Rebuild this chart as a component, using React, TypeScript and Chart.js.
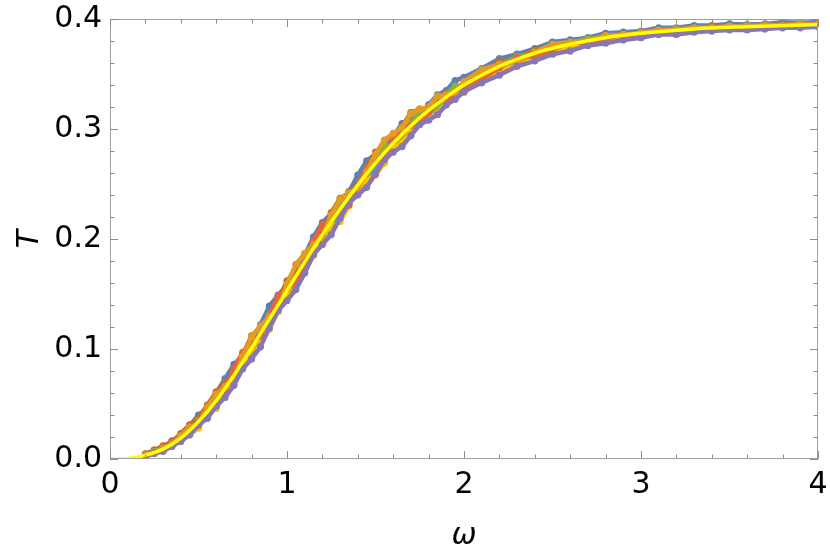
import React, { useEffect, useRef } from "react";
import { Chart, registerables } from "chart.js";

Chart.register(...registerables);

// ---- data ----
const omegaGrid = [
  0.2, 0.25, 0.3, 0.35, 0.4, 0.45, 0.5, 0.55, 0.6, 0.65, 0.7, 0.75, 0.8, 0.85, 0.9, 0.95,
  1.0, 1.05, 1.1, 1.15, 1.2, 1.25, 1.3, 1.35, 1.4, 1.45, 1.5, 1.55, 1.6, 1.65, 1.7, 1.75,
  1.8, 1.85, 1.9, 1.95, 2.0,
  2.1, 2.2, 2.3, 2.4, 2.5, 2.6, 2.7, 2.8, 2.9, 3.0, 3.1, 3.2, 3.3, 3.4, 3.5, 3.6, 3.7, 3.8, 3.9, 4.0,
];

const seriesBlue = [
  0.0045, 0.008, 0.010, 0.0165, 0.021, 0.030, 0.040, 0.046, 0.060, 0.073,
  0.086, 0.094, 0.105, 0.122, 0.139, 0.149, 0.158,
  0.168, 0.185, 0.202, 0.215, 0.223, 0.230, 0.243,
  0.258, 0.271, 0.277, 0.282, 0.293, 0.305, 0.310,
  0.313, 0.322, 0.331, 0.335, 0.344, 0.347,
  0.355, 0.364, 0.368, 0.373, 0.379, 0.381, 0.383, 0.387, 0.388, 0.389,
  0.392, 0.392, 0.394, 0.394, 0.3955, 0.395, 0.3955, 0.397, 0.3965, 0.397,
];
const seriesOrange = [
  0.0035, 0.005, 0.010, 0.0135, 0.021, 0.029, 0.032, 0.047, 0.059, 0.066,
  0.073, 0.093, 0.111, 0.121, 0.129, 0.136, 0.159,
  0.177, 0.187, 0.195, 0.202, 0.222, 0.236, 0.242,
  0.246, 0.261, 0.277, 0.290, 0.296, 0.301, 0.314,
  0.318, 0.320, 0.330, 0.331, 0.333, 0.343,
  0.354, 0.359, 0.360, 0.370, 0.377, 0.379, 0.380, 0.385, 0.386, 0.387,
  0.390, 0.390, 0.392, 0.392, 0.3935, 0.393, 0.3945, 0.394, 0.3955, 0.395,
];
const seriesGreen = [
  0.0035, 0.007, 0.009, 0.0125, 0.020, 0.024, 0.035, 0.040, 0.055, 0.063,
  0.079, 0.086, 0.096, 0.115, 0.131, 0.139, 0.147,
  0.164, 0.182, 0.192, 0.200, 0.218, 0.232, 0.238,
  0.244, 0.257, 0.272, 0.284, 0.286, 0.291, 0.305,
  0.315, 0.318, 0.320, 0.331, 0.339, 0.340,
  0.347, 0.358, 0.366, 0.368, 0.371, 0.378, 0.382, 0.383, 0.384, 0.388,
  0.389, 0.391, 0.391, 0.391, 0.3925, 0.394, 0.3935, 0.394, 0.3955, 0.395,
];
const seriesRed = [
  0.0045, 0.006, 0.008, 0.0145, 0.018, 0.028, 0.033, 0.048, 0.056, 0.062,
  0.082, 0.097, 0.105, 0.112, 0.130, 0.148, 0.155,
  0.161, 0.178, 0.198, 0.213, 0.219, 0.223, 0.231,
  0.247, 0.264, 0.270, 0.274, 0.290, 0.302, 0.303,
  0.305, 0.315, 0.326, 0.328, 0.330, 0.338,
  0.345, 0.356, 0.365, 0.366, 0.372, 0.379, 0.378, 0.382, 0.386, 0.386,
  0.388, 0.390, 0.390, 0.393, 0.3925, 0.392, 0.3935, 0.395, 0.3945, 0.394,
];
const seriesPurple = [
  0.0025, 0.005, 0.007, 0.0115, 0.016, 0.022, 0.031, 0.037, 0.048, 0.056,
  0.067, 0.082, 0.091, 0.102, 0.119, 0.135, 0.144,
  0.154, 0.169, 0.186, 0.195, 0.204, 0.219, 0.233,
  0.240, 0.247, 0.259, 0.272, 0.279, 0.284, 0.294,
  0.304, 0.308, 0.313, 0.322, 0.327, 0.334,
  0.342, 0.349, 0.357, 0.362, 0.368, 0.371, 0.376, 0.378, 0.381, 0.383,
  0.386, 0.386, 0.388, 0.389, 0.390, 0.390, 0.391, 0.392, 0.392, 0.393,
];
const seriesBrown = [
  0.0045, 0.008, 0.012, 0.0155, 0.023, 0.031, 0.037, 0.049, 0.061, 0.069,
  0.078, 0.095, 0.112, 0.120, 0.128, 0.144, 0.162,
  0.172, 0.179, 0.189, 0.206, 0.224, 0.237, 0.242,
  0.249, 0.265, 0.279, 0.283, 0.288, 0.302, 0.315,
  0.318, 0.319, 0.322, 0.333, 0.336, 0.338,
  0.351, 0.361, 0.364, 0.372, 0.375, 0.377, 0.381, 0.385, 0.385, 0.388,
  0.390, 0.390, 0.392, 0.393, 0.3925, 0.394, 0.3945, 0.395, 0.3945, 0.396,
];
const seriesLightBlue = [
  0.0025, 0.006, 0.010, 0.0125, 0.019, 0.023, 0.034, 0.045, 0.050, 0.065,
  0.072, 0.087, 0.104, 0.108, 0.124, 0.142, 0.150,
  0.159, 0.176, 0.193, 0.200, 0.210, 0.226, 0.240,
  0.245, 0.252, 0.266, 0.280, 0.282, 0.293, 0.307,
  0.309, 0.311, 0.319, 0.330, 0.332, 0.335,
  0.348, 0.353, 0.361, 0.370, 0.370, 0.376, 0.381, 0.381, 0.384, 0.387,
  0.388, 0.389, 0.391, 0.391, 0.3925, 0.392, 0.3935, 0.393, 0.3945, 0.395,
];
const seriesAmber = [
  0.0025, 0.005, 0.009, 0.0115, 0.018, 0.022, 0.028, 0.041, 0.046, 0.060,
  0.068, 0.085, 0.101, 0.109, 0.118, 0.134, 0.152,
  0.162, 0.170, 0.185, 0.201, 0.211, 0.216, 0.230,
  0.246, 0.253, 0.258, 0.269, 0.283, 0.287, 0.298,
  0.308, 0.311, 0.314, 0.324, 0.332, 0.333,
  0.346, 0.352, 0.360, 0.367, 0.369, 0.374, 0.378, 0.381, 0.382, 0.386,
  0.387, 0.389, 0.389, 0.391, 0.391, 0.392, 0.392, 0.393, 0.3935, 0.394,
];

const curveOmega = [
  0, 0.1, 0.2, 0.3, 0.4, 0.5, 0.6, 0.7, 0.8, 0.9, 1.0, 1.1, 1.2, 1.3, 1.4, 1.5, 1.6, 1.7, 1.8, 1.9, 2.0,
  2.2, 2.4, 2.6, 2.8, 3.0, 3.3, 3.6, 4.0,
];
const curveT = [
  0, 0.0005, 0.0035, 0.009, 0.019, 0.034, 0.053, 0.076, 0.101, 0.127, 0.153, 0.179, 0.204, 0.227, 0.249, 0.269,
  0.287, 0.303, 0.317, 0.329, 0.340,
  0.357, 0.369, 0.377, 0.383, 0.387, 0.391, 0.393, 0.395,
];

const xTickLabels = ["0", "1", "2", "3", "4"];
const yTickLabels = ["0.0", "0.1", "0.2", "0.3", "0.4"];
const xMajorTicks = [0, 1, 2, 3, 4];
const xMinorTicks = [
  0.2, 0.4, 0.6, 0.8, 1.2, 1.4, 1.6, 1.8, 2.2, 2.4, 2.6, 2.8, 3.2, 3.4, 3.6, 3.8,
];
const yMajorTicks = [0, 0.1, 0.2, 0.3, 0.4];
const yMinorTicks = [
  0.02, 0.04, 0.06, 0.08, 0.12, 0.14, 0.16, 0.18, 0.22, 0.24, 0.26, 0.28, 0.32, 0.34, 0.36, 0.38,
];

const scatterSeries = [
  { name: "s5", color: "#8778B3", values: seriesPurple },
  { name: "s2", color: "#E19C24", values: seriesOrange },
  { name: "s4", color: "#EB6235", values: seriesRed },
  { name: "s8", color: "#FFBF00", values: seriesAmber },
  { name: "s3", color: "#8FB032", values: seriesGreen },
  { name: "s6", color: "#C56E1A", values: seriesBrown },
  { name: "s1", color: "#5E81B5", values: seriesBlue },
  { name: "s7", color: "#5D9EC7", values: seriesLightBlue },
];

const FONT = "'DejaVu Sans', sans-serif";

const framePlugin = {
  id: "mmaFrame",
  afterDatasetsDraw(chart: any) {
    const { ctx, chartArea: a, scales } = chart;
    const xs = scales.x;
    const ys = scales.y;
    ctx.save();
    ctx.strokeStyle = "#a0a0a0";
    ctx.lineWidth = 1;
    ctx.strokeRect(a.left + 0.5, a.top + 0.5, a.right - a.left - 1, a.bottom - a.top - 1);
    ctx.strokeStyle = "#8c8c8c";
    const seg = (x1: number, y1: number, x2: number, y2: number) => {
      ctx.beginPath();
      ctx.moveTo(x1, y1);
      ctx.lineTo(x2, y2);
      ctx.stroke();
    };
    const xt = (vals: number[], len: number) => {
      for (const v of vals) {
        const p = Math.round(xs.getPixelForValue(v)) + 0.5;
        seg(p, a.bottom, p, a.bottom - len);
        seg(p, a.top, p, a.top + len);
      }
    };
    const yt = (vals: number[], len: number) => {
      for (const v of vals) {
        const p = Math.round(ys.getPixelForValue(v)) + 0.5;
        seg(a.left, p, a.left + len, p);
        seg(a.right, p, a.right - len, p);
      }
    };
    xt(xMajorTicks, 8);
    xt(xMinorTicks, 4.5);
    yt(yMajorTicks, 8);
    yt(yMinorTicks, 4.5);
    ctx.restore();
  },
};

export default function App() {
  const ref = useRef<HTMLCanvasElement | null>(null);

  useEffect(() => {
    if (!ref.current) return;
    const datasets: any[] = [
      {
        label: "fit",
        data: curveOmega.map((x, i) => ({ x, y: curveT[i] })),
        showLine: true,
        borderColor: "#FFFF00",
        borderWidth: 3.5,
        pointRadius: 0,
        cubicInterpolationMode: "monotone",
        fill: false,
      },
      ...scatterSeries.map((s) => ({
        label: s.name,
        data: omegaGrid.map((x, i) => ({ x, y: s.values[i] })),
        showLine: true,
        borderColor: s.color,
        backgroundColor: s.color,
        borderWidth: 4.5,
        borderCapStyle: "round",
        borderJoinStyle: "round",
        pointRadius: 3.6,
        pointBorderWidth: 0,
        tension: 0,
        fill: false,
      })),
    ];

    const noPad = (s: any) => {
      s.paddingTop = 0;
      s.paddingBottom = 0;
      s.paddingLeft = 0;
      s.paddingRight = 0;
    };

    const chart = new Chart(ref.current, {
      type: "scatter",
      data: { datasets },
      plugins: [framePlugin],
      options: {
        animation: false,
        responsive: false,
        devicePixelRatio: 1,
        layout: { padding: { top: 19, right: 12, left: 0, bottom: 0 } },
        plugins: { legend: { display: false }, tooltip: { enabled: false } },
        scales: {
          x: {
            type: "linear",
            min: 0,
            max: 4,
            afterFit: (s: any) => {
              s.height = 95;
              noPad(s);
            },
            grid: { display: false, drawTicks: false },
            border: { display: false },
            ticks: {
              stepSize: 1,
              padding: 8,
              color: "#000",
              font: { family: FONT, size: 30 },
              callback: (_v: any, i: number) => xTickLabels[i],
            },
            title: {
              display: true,
              text: "ω",
              color: "#000",
              font: { family: FONT, size: 30, style: "italic" },
              padding: { top: 0, bottom: 0 },
            },
          },
          y: {
            type: "linear",
            min: 0,
            max: 0.4,
            afterFit: (s: any) => {
              s.width = 110;
              noPad(s);
            },
            grid: { display: false, drawTicks: false },
            border: { display: false },
            ticks: {
              stepSize: 0.1,
              padding: 8,
              color: "#000",
              font: { family: FONT, size: 30 },
              callback: (_v: any, i: number) => yTickLabels[i],
            },
            title: {
              display: true,
              text: "T",
              color: "#000",
              font: { family: FONT, size: 30, style: "italic" },
              padding: { top: 12, bottom: 0 },
            },
          },
        },
      },
    });
    return () => chart.destroy();
  }, []);

  return (
    <div style={{ position: "fixed", left: 0, top: 0, width: 830, height: 554, background: "#fff" }}>
      <canvas ref={ref} width={830} height={554} style={{ display: "block" }} />
    </div>
  );
}
